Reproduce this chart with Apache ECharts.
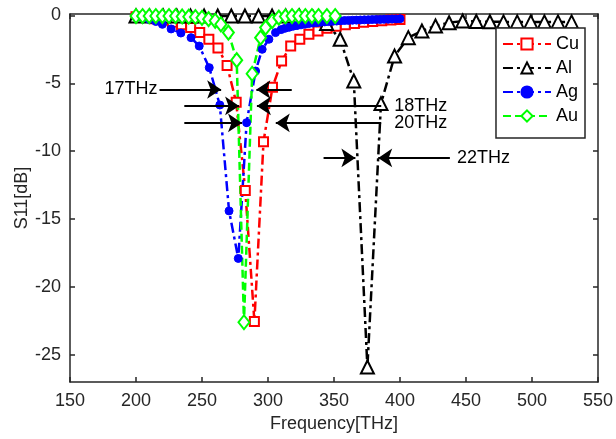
<!DOCTYPE html>
<html>
<head>
<meta charset="utf-8">
<script src="https://cdn.jsdelivr.net/npm/echarts@6/dist/echarts.min.js"></script>
<style>html,body{margin:0;padding:0;background:#fff;}#c{width:616px;height:439px;}</style>
</head>
<body>
<div id="c"></div>
<script>
// ---- data ----
const xTicks = [150, 200, 250, 300, 350, 400, 450, 500, 550];
const yTicks = [-25, -20, -15, -10, -5, 0];

const cuX = [200,206.9,213.8,220.7,227.6,234.5,241.4,248.3,255.2,262.1,269,275.9,282.8,289.7,296.6,303.4,310.3,317.2,324.1,331,337.9,344.8,351.7,358.6,365.5,372.4,379.3,386.2,393.1,400];
const cuY = [-0.1,-0.15,-0.25,-0.35,-0.5,-0.7,-0.9,-1.27,-1.76,-2.4,-3.7,-6.4,-12.9,-22.55,-9.3,-5.3,-3.36,-2.26,-1.76,-1.4,-1.15,-0.95,-0.8,-0.7,-0.6,-0.5,-0.45,-0.4,-0.35,-0.3];

const alX = [200,210.3,220.6,230.9,241.3,251.6,261.9,272.2,282.5,292.8,303.1,313.4,323.8,334.1,344.4,354.7,365,375.3,385.6,395.9,406.3,416.6,426.9,437.2,447.5,457.8,468.1,478.4,488.8,499.1,509.4,519.7,530];
const alY = [-0.05,-0.05,-0.05,-0.05,-0.05,-0.05,-0.05,-0.05,-0.05,-0.05,-0.05,-0.05,-0.05,-0.15,-0.6,-1.76,-4.83,-25.9,-6.5,-3.0,-1.64,-1.15,-0.78,-0.54,-0.42,-0.45,-0.47,-0.48,-0.48,-0.48,-0.48,-0.48,-0.48];

const agX = [200,205,210,215,220,226.6,234,241.7,247.9,255.5,263.5,270.5,277.5,283.8,290.6,295.6,300.7,305.7,310,313,316,319,322,325,328,331,334,337,340,343,346,349,352,355,358,361,364,367,370,373,376,379,382,385,388,391,394,397,400];
const agY = [-0.1,-0.2,-0.3,-0.45,-0.66,-1.0,-1.3,-1.64,-2.26,-3.85,-6.6,-14.4,-17.9,-7.9,-4.1,-2.5,-1.76,-1.27,-1.05,-0.95,-0.88,-0.8,-0.75,-0.7,-0.65,-0.6,-0.57,-0.54,-0.5,-0.48,-0.46,-0.44,-0.42,-0.4,-0.38,-0.37,-0.36,-0.35,-0.34,-0.33,-0.32,-0.31,-0.3,-0.3,-0.29,-0.28,-0.27,-0.26,-0.25];

const auX = [200,205,210,215,220,225,230,235,240,245,250,255,260,264.3,270,276.3,281.8,288,294.4,298.2,303.2,308.2,313.2,318.2,323.3,328.3,333.3,338.3,344.6,350.9];
const auY = [-0.05,-0.05,-0.05,-0.05,-0.05,-0.05,-0.05,-0.08,-0.1,-0.12,-0.18,-0.28,-0.4,-0.66,-1.27,-3.3,-22.6,-4.3,-1.64,-0.9,-0.42,-0.17,-0.08,-0.05,-0.05,-0.05,-0.05,-0.05,-0.05,-0.05];

// annotations: [label, y(dB), xStart, xEnd, labelGap]
const arrows = [
  ['17THz', -5.46, 217.8, 264.5, 2],
  ['', -5.46, 318, 291.2, 0],
  ['', -6.67, 236.6, 278.1, 0],
  ['18THz', -6.67, 385.8, 291.6, 13],
  ['', -7.92, 236.6, 280.3, 0],
  ['20THz', -7.92, 385.8, 305.9, 13],
  ['', -10.5, 342.1, 366.2, 0],
  ['22THz', -10.5, 437.8, 383.5, 7]
];

const FONT = 'Liberation Sans';
const FS = 18;
const zip = (a, b) => a.map((v, i) => [v, b[i]]);
const dashDot = [10, 4, 3, 4];

const chart = echarts.init(document.getElementById('c'), null, {renderer: 'canvas'});
const axisCommon = {
  axisLine: {show: true, onZero: false, lineStyle: {color: '#262626', width: 1.5}},
  axisTick: {show: true, inside: true, length: 5, lineStyle: {color: '#262626', width: 1.5}},
  splitLine: {show: false}
};
chart.setOption({
  animation: false,
  backgroundColor: '#fff',
  textStyle: {fontFamily: FONT},
  grid: {left: 70, right: 15, top: 14, bottom: 57, containLabel: false},
  xAxis: [
    Object.assign({type: 'value', min: 150, max: 550, interval: 50, position: 'bottom',
      name: 'Frequency[THz]', nameLocation: 'middle', nameGap: 33, nameMoveOverlap: false,
      nameTextStyle: {fontFamily: FONT, fontSize: FS, color: '#262626'},
      axisLabel: {fontFamily: FONT, fontSize: FS, color: '#262626', margin: 10}}, axisCommon),
    Object.assign({type: 'value', min: 150, max: 550, interval: 50, position: 'top',
      axisLabel: {show: false}}, axisCommon)
  ],
  yAxis: [
    Object.assign({type: 'value', min: -27, max: 0.1, position: 'left',
      name: 'S11[dB]', nameLocation: 'middle', nameGap: 39, nameRotate: 90, nameMoveOverlap: false,
      nameTextStyle: {fontFamily: FONT, fontSize: FS, color: '#262626'},
      axisLabel: {fontFamily: FONT, fontSize: FS, color: '#262626', margin: 9, customValues: yTicks}},
      axisCommon, {axisTick: Object.assign({}, axisCommon.axisTick, {customValues: yTicks})}),
    Object.assign({type: 'value', min: -27, max: 0.1, position: 'right',
      axisLabel: {show: false, customValues: yTicks}},
      axisCommon, {axisTick: Object.assign({}, axisCommon.axisTick, {customValues: yTicks})})
  ],
  legend: {
    orient: 'vertical', right: 31, top: 28,
    data: ['Cu', 'Al', 'Ag', 'Au'],
    itemWidth: 48, itemHeight: 14, itemGap: 6,
    padding: [7, 6, 13, 6],
    borderColor: '#262626', borderWidth: 1.5, backgroundColor: '#fff',
    textStyle: {fontFamily: FONT, fontSize: FS, color: '#000'}
  },
  series: [
    {name: 'Cu', type: 'line', data: zip(cuX, cuY), color: '#ff0000',
     symbol: 'rect', symbolSize: 9, showAllSymbol: true,
     lineStyle: {color: '#ff0000', width: 2.5, type: dashDot},
     itemStyle: {color: '#fff', borderColor: '#ff0000', borderWidth: 2}},
    {name: 'Al', type: 'line', data: zip(alX, alY), color: '#000',
     symbol: 'triangle', symbolSize: 13, showAllSymbol: true,
     lineStyle: {color: '#000', width: 2.5, type: dashDot},
     itemStyle: {color: '#fff', borderColor: '#000', borderWidth: 2}},
    {name: 'Ag', type: 'line', data: zip(agX, agY), color: '#0000ff',
     symbol: 'circle', symbolSize: 8, showAllSymbol: true,
     lineStyle: {color: '#0000ff', width: 2.5, type: dashDot},
     itemStyle: {color: '#0000ff', borderColor: '#0000ff', borderWidth: 1}},
    {name: 'Au', type: 'line', data: zip(auX, auY), color: '#00ff00',
     symbol: 'diamond', symbolSize: [11, 14], showAllSymbol: true,
     lineStyle: {color: '#00ff00', width: 2.5, type: [8, 4]},
     itemStyle: {color: '#fff', borderColor: '#00ff00', borderWidth: 2}},
    {name: 'annot', type: 'line', data: [], silent: true,
     markLine: {
       silent: true, animation: false,
       symbol: ['none', 'arrow'], symbolSize: 14,
       lineStyle: {color: '#000', width: 2, type: 'solid'},
       label: {show: true, position: 'start', fontFamily: FONT, fontSize: FS, color: '#000',
         formatter: p => p.data.lab || ''},
       data: arrows.map(a => [
         {coord: [a[2], a[1]], lab: a[0], label: {distance: a[4]}},
         {coord: [a[3], a[1]]}
       ])
     }}
  ]
});
</script>
</body>
</html>
